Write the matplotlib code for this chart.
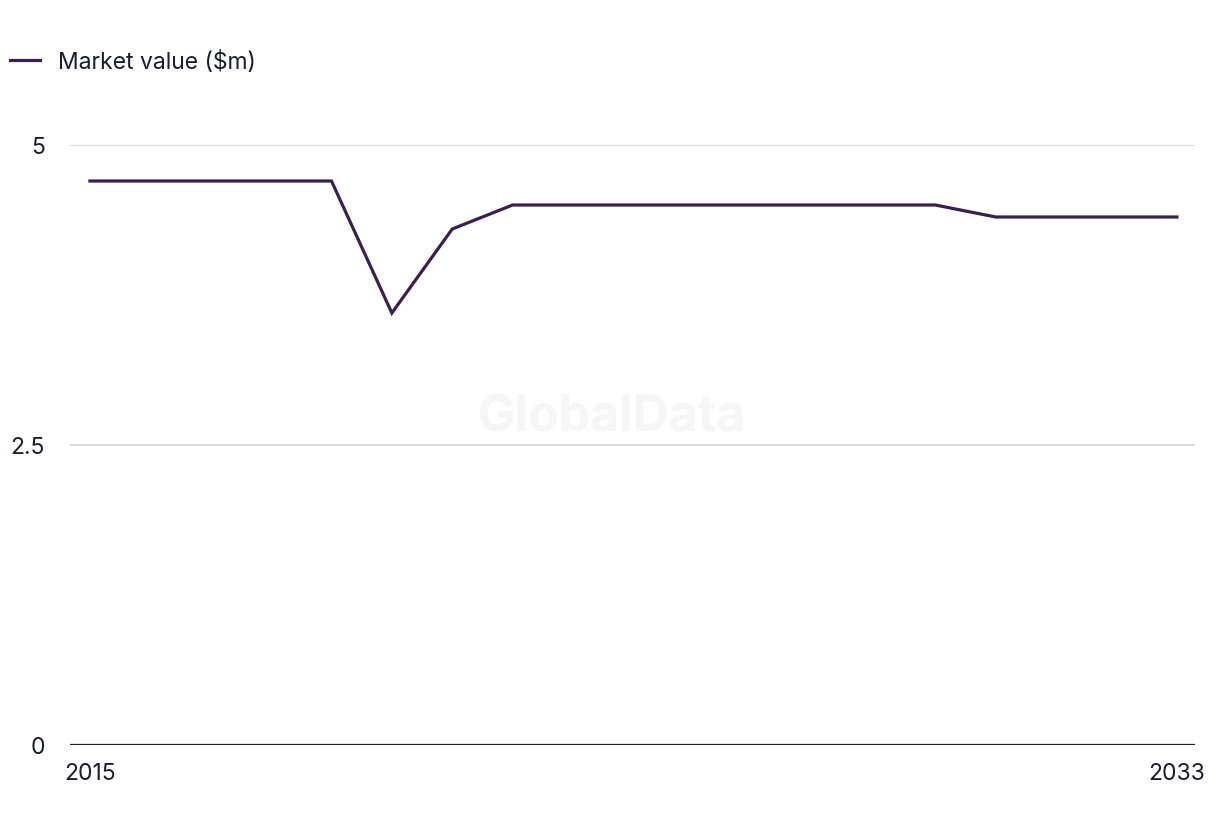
"""Market value line chart, 2015-2033."""

import matplotlib

matplotlib.use("Agg")

import matplotlib.pyplot as plt

years = list(range(2015, 2034))
market_value = [4.7, 4.7, 4.7, 4.7, 4.7, 3.6, 4.3, 4.5, 4.5, 4.5,
                4.5, 4.5, 4.5, 4.5, 4.5, 4.4, 4.4, 4.4, 4.4]
y_ticks = [0, 2.5, 5]
y_labels = ["0", "2.5", "5"]
x_ticks = [2015, 2033]

LINE_COLOR = "#36214f"
TEXT_COLOR = "#1c1c2b"

plt.rcParams["font.family"] = ["Inter", "DejaVu Sans"]


def main():
    fig = plt.figure(figsize=(12.2, 8.36), dpi=100)
    ax = fig.add_axes([70 / 1220, 91 / 836, 1125 / 1220, 600 / 836])

    ax.plot(years, market_value, color=LINE_COLOR, linewidth=2.3,
            label="Market value ($m)", solid_joinstyle="miter")

    ax.set_xlim(2014.67, 2033.3)
    ax.set_ylim(0, 5)
    ax.set_yticks(y_ticks, y_labels)
    ax.set_xticks(x_ticks, [str(x) for x in x_ticks])

    for y in y_ticks[1:]:
        ax.axhline(y, color="#d6d6d6", linewidth=1.2, zorder=0)
    ax.axhline(0, color=TEXT_COLOR, linewidth=1.6, zorder=1)

    for side in ["top", "right", "left", "bottom"]:
        ax.spines[side].set_visible(False)
    ax.tick_params(axis="both", length=0, labelsize=16.5, colors=TEXT_COLOR)
    ax.tick_params(axis="y", pad=18)
    ax.tick_params(axis="x", pad=13)

    ax.text(0.482, 0.545, "GlobalData", transform=ax.transAxes, ha="center",
            va="center", fontsize=36, fontweight="bold", color="#f6f6f6",
            zorder=0)

    fig.legend(loc="center left", bbox_to_anchor=(10 / 1220, 1 - 62 / 836),
               frameon=False, fontsize=16.5, handlelength=1.3,
               handletextpad=0.8, borderpad=0, borderaxespad=0,
               labelcolor=TEXT_COLOR)

    fig.savefig("out.png", dpi=100)
    plt.close(fig)


if __name__ == "__main__":
    main()
